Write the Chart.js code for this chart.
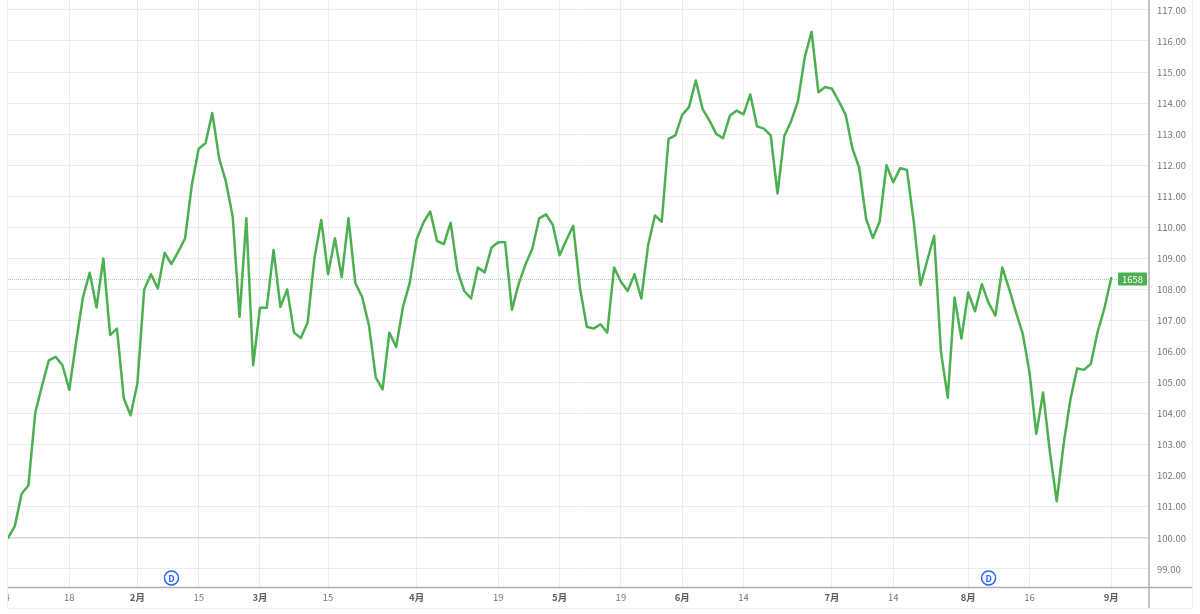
<!DOCTYPE html>
<html>
<head>
<meta charset="utf-8">
<title>Chart</title>
<script src="https://cdn.jsdelivr.net/npm/chart.js@4/dist/chart.umd.min.js"></script>
<style>
  html, body { margin: 0; padding: 0; background: #fff; overflow: hidden; }
  #frame {
    position: absolute; left: 7px; top: 0; width: 1184px; height: 608px;
    border-left: 1px solid #eef1f5; border-right: 1px solid #eef1f5; border-bottom: 1px solid #eef1f5;
  }
  canvas { display: block; }
</style>
</head>
<body>
<div id="frame"><canvas id="myChart" width="1184" height="608"></canvas></div>
<script>
/* ---- Data ---- */
const seriesValues = [
  100.0, 100.38, 101.42, 101.69, 104.03, 104.9, 105.72, 105.83, 105.56, 104.77,
  106.3, 107.74, 108.54, 107.42, 109.0, 106.53, 106.74, 104.5, 103.95, 104.97,
  108.0, 108.49, 108.03, 109.18, 108.82, 109.22, 109.64, 111.37, 112.53, 112.71,
  113.68, 112.23, 111.47, 110.34, 107.12, 110.29, 105.56, 107.41, 107.41, 109.27,
  107.44, 108.0, 106.61, 106.44, 106.94, 109.0, 110.24, 108.49, 109.65, 108.39,
  110.29, 108.21, 107.76, 106.85, 105.17, 104.78, 106.61, 106.15, 107.44, 108.22,
  109.61, 110.15, 110.51, 109.56, 109.46, 110.15, 108.6, 107.95, 107.71, 108.71,
  108.55, 109.35, 109.52, 109.52, 107.35, 108.19, 108.81, 109.32, 110.29, 110.42,
  110.08, 109.1, 109.59, 110.05, 108.03, 106.8, 106.74, 106.88, 106.61, 108.71,
  108.25, 107.95, 108.49, 107.71, 109.43, 110.38, 110.18, 112.85, 112.96, 113.62,
  113.87, 114.73, 113.81, 113.44, 113.01, 112.87, 113.59, 113.76, 113.64, 114.28,
  113.25, 113.18, 112.96, 111.09, 112.94, 113.42, 114.06, 115.48, 116.3, 114.35,
  114.52, 114.46, 114.06, 113.63, 112.54, 111.91, 110.28, 109.66, 110.19, 112.0,
  111.45, 111.9, 111.85, 110.19, 108.14, 108.95, 109.73, 105.99, 104.51, 107.74,
  106.42, 107.9, 107.3, 108.17, 107.57, 107.16, 108.71, 108.03, 107.28, 106.58,
  105.34, 103.35, 104.68, 102.76, 101.18, 103.0, 104.45, 105.46, 105.41, 105.6,
  106.63, 107.39, 108.37
];
const xTickIndexes = [-0.5, 9, 19, 28, 37, 47, 60, 72, 81, 90, 99, 108, 121, 130, 141, 150, 162];
const xTickLabels  = ["14", "18", "2月", "15", "3月", "15", "4月", "19", "5月", "19", "6月", "14", "7月", "14", "8月", "16", "9月"];
const yTickValues  = [99, 100, 101, 102, 103, 104, 105, 106, 107, 108, 109, 110, 111, 112, 113, 114, 115, 116, 117];
const dividendIndexes = [24, 144];
const lastValue = 108.34;
const lastLabel = "1658";

/* ---- Colours ---- */
const GREEN = "#4caf50";
const GRID  = "#e6eef3";
const AXIS  = "#adb0b6";
const TEXT  = "#72757f";
const FONT  = "'Noto Sans CJK JP', 'Noto Sans', sans-serif";

// month ticks are bold; the scale also resolves fonts with no tick index
const isMonthTick = ctx => (xTickLabels[ctx.index] || "").includes("月");

/* ---- Things Chart.js has no option for: axis lines, price line, D markers ---- */
const overlayPlugin = {
  id: "overlay",
  beforeDatasetsDraw(chart) {
    const { ctx, chartArea, scales, width, height } = chart;
    const y = Math.round(scales.y.getPixelForValue(lastValue)) + 0.5;
    ctx.save();
    ctx.strokeStyle = "#a5d6a7";
    ctx.lineWidth = 1;
    ctx.setLineDash([1, 1]);
    ctx.beginPath();
    ctx.moveTo(chartArea.left, y);
    ctx.lineTo(chartArea.right, y);
    ctx.stroke();
    ctx.setLineDash([]);

    ctx.strokeStyle = AXIS;
    ctx.lineWidth = 1.5;
    ctx.beginPath();
    ctx.moveTo(chartArea.left, chartArea.bottom + 0.5);
    ctx.lineTo(width, chartArea.bottom + 0.5);
    ctx.moveTo(chartArea.right, 0);
    ctx.lineTo(chartArea.right, height);
    ctx.stroke();
    ctx.restore();
  },
  afterDatasetsDraw(chart) {
    const { ctx, chartArea, scales } = chart;
    const y = scales.y.getPixelForValue(lastValue);
    ctx.save();
    // badge at the last price
    ctx.fillStyle = GREEN;
    ctx.beginPath();
    ctx.roundRect(chartArea.right - 31, y - 6.5, 29, 13, 1);
    ctx.fill();
    ctx.fillStyle = "#fff";
    ctx.font = "9.5px " + FONT;
    ctx.textAlign = "center";
    ctx.textBaseline = "middle";
    ctx.fillText(lastLabel, chartArea.right - 16.5, y + 0.5);

    // dividend markers
    dividendIndexes.forEach(i => {
      const x = scales.x.getPixelForValue(i);
      const cy = chartArea.bottom - 9;
      ctx.beginPath();
      ctx.arc(x, cy, 7, 0, Math.PI * 2);
      ctx.fillStyle = "#fff";
      ctx.fill();
      ctx.strokeStyle = "#2962ff";
      ctx.lineWidth = 1.5;
      ctx.stroke();
      ctx.fillStyle = "#2962ff";
      ctx.font = "bold 9px " + FONT;
      ctx.fillText("D", x, cy + 0.5);
    });
    ctx.restore();
  }
};

new Chart(document.getElementById("myChart"), {
  type: "line",
  data: {
    datasets: [{
      data: seriesValues.map((v, i) => ({ x: i, y: v })),
      borderColor: GREEN,
      borderWidth: 2.5,
      borderJoinStyle: "round",
      borderCapStyle: "round",
      pointRadius: 0,
      tension: 0,
    }],
  },
  options: {
    responsive: false,
    animation: false,
    layout: { padding: 0 },
    plugins: { legend: { display: false }, tooltip: { enabled: false } },
    scales: {
      x: {
        type: "linear",
        min: 0,
        max: 167.55,
        afterBuildTicks: s => { s.ticks = xTickIndexes.map(v => ({ value: v })); },
        afterFit: s => { s.height = 21; s.paddingLeft = 0; s.paddingRight = 0; },
        grid: { color: GRID, drawTicks: false },
        border: { display: false },
        ticks: {
          autoSkip: false,
          maxRotation: 0,
          padding: 5,
          callback: (val, i) => xTickLabels[i],
          color: ctx => isMonthTick(ctx) ? "#5d606b" : TEXT,
          font: ctx => ({
            family: FONT,
            size: 9.5,
            weight: isMonthTick(ctx) ? "bold" : "normal",
          }),
        },
      },
      y: {
        position: "right",
        min: 98.42,
        max: 117.32,
        afterBuildTicks: s => { s.ticks = yTickValues.map(v => ({ value: v })); },
        afterFit: s => { s.width = 43; s.paddingTop = 0; s.paddingBottom = 0; },
        grid: {
          color: ctx => ctx.tick && ctx.tick.value === 100 ? "#d5d6dc" : GRID,
          lineWidth: ctx => ctx.tick && ctx.tick.value === 100 ? 1.5 : 1,
          drawTicks: false,
        },
        border: { display: false },
        ticks: {
          autoSkip: false,
          padding: 8,
          color: TEXT,
          font: { family: FONT, size: 9.5 },
          callback: v => v.toFixed(2),
        },
      },
    },
  },
  plugins: [overlayPlugin],
});
</script>
</body>
</html>
